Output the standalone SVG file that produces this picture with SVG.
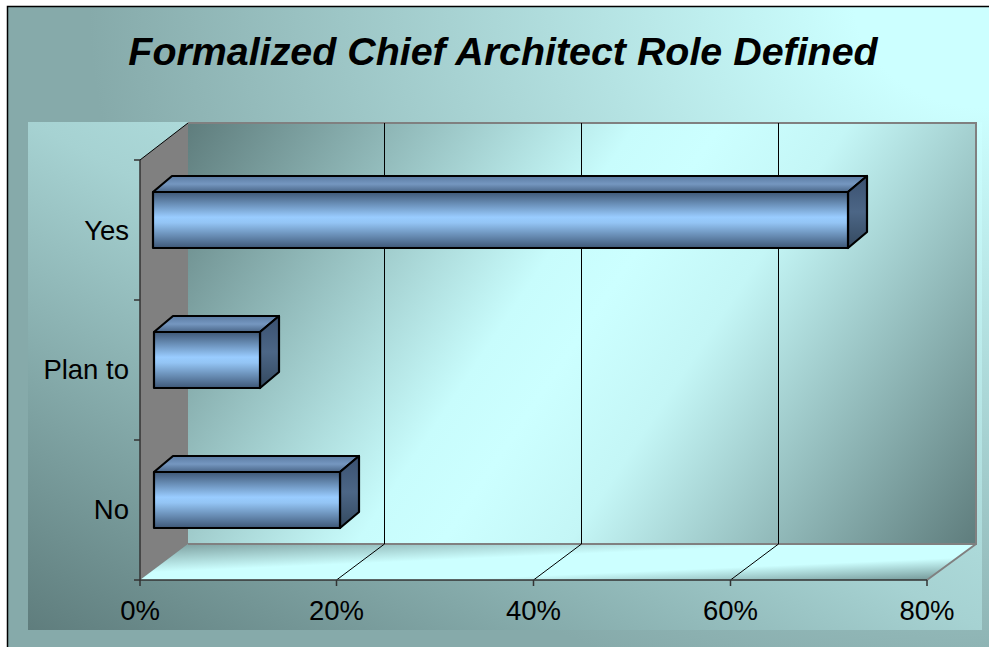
<svg xmlns="http://www.w3.org/2000/svg" width="989" height="647" viewBox="0 0 989 647">
<defs>
<radialGradient id="gOuter" gradientUnits="userSpaceOnUse" cx="989" cy="0" r="900" gradientTransform="translate(989 0) scale(1 0.8) translate(-989 0)">
<stop offset="0" stop-color="#ccffff"/>
<stop offset="0.15" stop-color="#ccffff"/>
<stop offset="1" stop-color="#86aaaa"/>
</radialGradient>
<linearGradient id="gPlot" x1="0" y1="1" x2="1" y2="0">
<stop offset="0" stop-color="#5f7d7d"/>
<stop offset="0.5" stop-color="#a6d2d2"/>
<stop offset="1" stop-color="#ccffff"/>
</linearGradient>
<linearGradient id="gWall" gradientUnits="userSpaceOnUse" x1="213" y1="87" x2="951" y2="579">
<stop offset="0" stop-color="#5f7d7d"/>
<stop offset="0.42" stop-color="#c8fcfc"/>
<stop offset="0.5" stop-color="#ccffff"/>
<stop offset="0.62" stop-color="#c4f6f6"/>
<stop offset="1" stop-color="#5f7d7d"/>
</linearGradient>
<linearGradient id="gFloor" x1="0" y1="0" x2="1" y2="1">
<stop offset="0" stop-color="#7a9c9c"/>
<stop offset="0.4" stop-color="#ccffff"/>
<stop offset="0.68" stop-color="#ccffff"/>
<stop offset="1" stop-color="#6d8f8f"/>
</linearGradient>
<linearGradient id="gFront" x1="0" y1="0" x2="0" y2="1">
<stop offset="0" stop-color="#3f5877"/>
<stop offset="0.45" stop-color="#99ccff"/>
<stop offset="0.55" stop-color="#93c4f4"/>
<stop offset="1" stop-color="#3f5877"/>
</linearGradient>
<linearGradient id="gTop" x1="0" y1="0" x2="0" y2="1">
<stop offset="0" stop-color="#5a7aa2"/>
<stop offset="0.5" stop-color="#7597c0"/>
<stop offset="1" stop-color="#4a6688"/>
</linearGradient>
<linearGradient id="gSide" x1="0" y1="0" x2="0" y2="1">
<stop offset="0" stop-color="#3a5170"/>
<stop offset="0.5" stop-color="#4c6686"/>
<stop offset="1" stop-color="#34495f"/>
</linearGradient>
</defs>
<style>
.bar-front{fill:url(#gFront);stroke:#000;stroke-width:2.2;stroke-linejoin:round}
.bar-top{fill:url(#gTop);stroke:#000;stroke-width:2.2;stroke-linejoin:round}
.bar-side{fill:url(#gSide);stroke:#000;stroke-width:2.2;stroke-linejoin:round}
.grid{stroke:#000;stroke-width:1;fill:none}
.edge{stroke:#808080;stroke-width:2;fill:none}
.axis{stroke:#333;stroke-width:1.5;fill:none}
.lbl{font-family:"Liberation Sans",Arial,sans-serif;font-size:27.5px;fill:#000}
.title{font-family:"Liberation Sans",Arial,sans-serif;font-size:39.4px;font-weight:bold;font-style:italic;fill:#000}
</style>

<g id="background">
<rect x="0" y="0" width="989" height="647" fill="#ffffff"/>
<rect x="7.5" y="6.5" width="982" height="641" fill="url(#gOuter)"/>
<path d="M7.5,647 V6.5 H989" fill="none" stroke="#000" stroke-width="1.5"/>
<rect x="28" y="122" width="954" height="508" fill="url(#gPlot)"/>
</g>

<g id="walls">
<rect id="back-wall" x="188" y="123" width="788" height="421" fill="url(#gWall)"/>
<polygon id="side-wall" points="140,160 188,123 188,544 140,580" fill="#808080"/>
<polygon id="floor" points="140,580 188,544 976,544 927,580" fill="url(#gFloor)"/>
<path class="edge" d="M188,123 H976 V544 H188 M976,544 L927,580"/>
<path d="M140,160 L188,123" stroke="#000" stroke-width="1" fill="none"/>
</g>

<g id="connectors">
<path class="grid" d="M384.5,123 V544 M581.5,123 V544 M778.5,123 V544"/>
<path class="grid" d="M336.5,580 L384.5,544 M533.5,580 L581.5,544 M730.5,580 L778.5,544"/>
<path class="axis" d="M140,160 V580 H927"/>
<path class="axis" d="M134,160 H140 M134,300 H140 M134,440 H140 M134,580 H140"/>
<path class="axis" d="M140,580 V586 M336.5,580 V586 M533.5,580 V586 M730.5,580 V586 M927,580 V586"/>
</g>

<g id="bar-yes">
<polygon class="bar-top" points="153,192 172,176 867,176 848,192"/>
<polygon class="bar-side" points="848,192 867,176 867,232 848,248"/>
<rect class="bar-front" x="153" y="192" width="695" height="56"/>
</g>
<g id="bar-plan-to">
<polygon class="bar-top" points="154,332 173,316 279,316 260,332"/>
<polygon class="bar-side" points="260,332 279,316 279,372 260,388"/>
<rect class="bar-front" x="154" y="332" width="106" height="56"/>
</g>
<g id="bar-no">
<polygon class="bar-top" points="154,472 173,456 359,456 340,472"/>
<polygon class="bar-side" points="340,472 359,456 359,512 340,528"/>
<rect class="bar-front" x="154" y="472" width="186" height="56"/>
</g>

<g id="category-labels">
<text class="lbl" x="129" y="240" text-anchor="end">Yes</text>
<text class="lbl" x="129" y="379" text-anchor="end">Plan to</text>
<text class="lbl" x="129" y="519" text-anchor="end">No</text>
</g>
<g id="value-labels">
<text class="lbl" x="140" y="620" text-anchor="middle">0%</text>
<text class="lbl" x="336.5" y="620" text-anchor="middle">20%</text>
<text class="lbl" x="533.5" y="620" text-anchor="middle">40%</text>
<text class="lbl" x="730.5" y="620" text-anchor="middle">60%</text>
<text class="lbl" x="927" y="620" text-anchor="middle">80%</text>
</g>
<g id="title">
<text class="title" x="503" y="65" text-anchor="middle">Formalized Chief Architect Role Defined</text>
</g>
</svg>
